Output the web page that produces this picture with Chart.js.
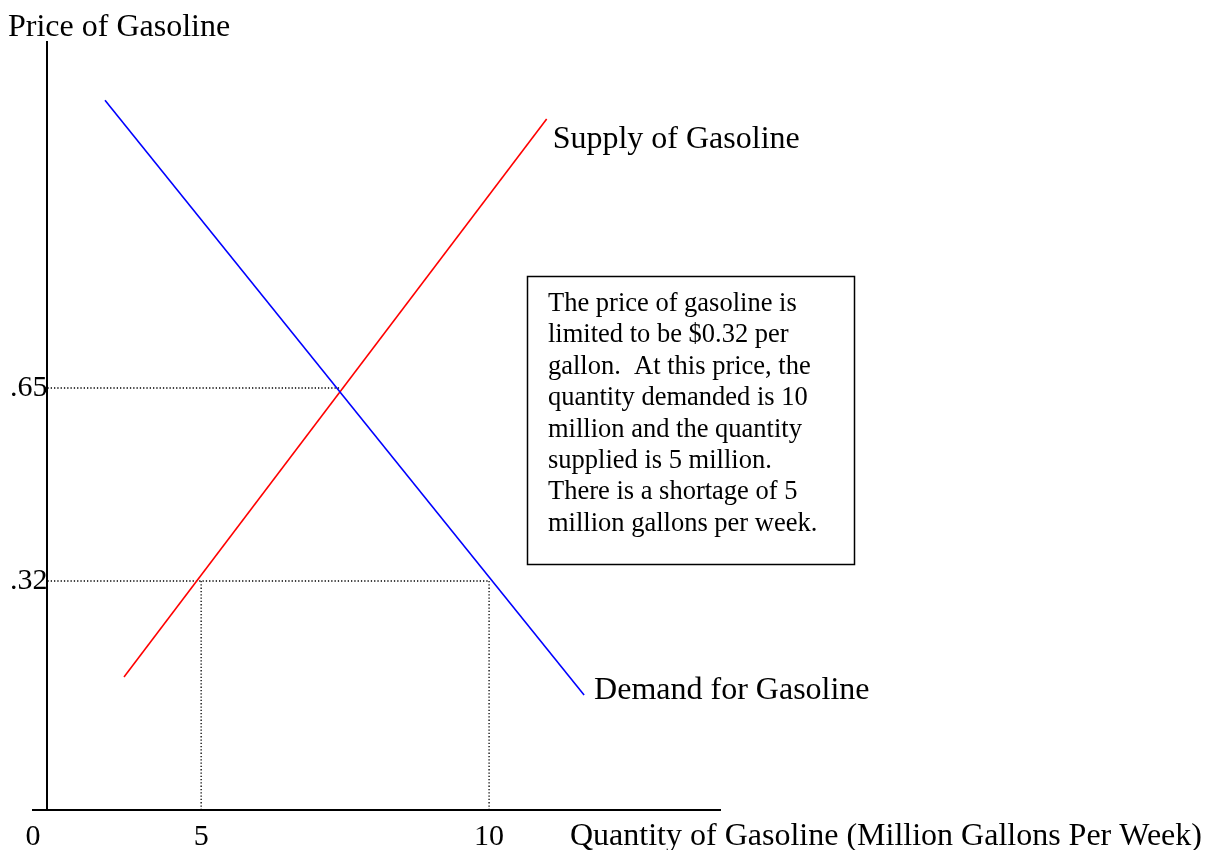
<!DOCTYPE html>
<html>
<head>
<meta charset="utf-8">
<script src="https://cdn.jsdelivr.net/npm/chart.js@4"></script>
<style>
  body { margin: 0; background: #fff; }
  #wrap { width: 1207px; height: 850px; position: relative; }
</style>
</head>
<body>
<div id="wrap"><canvas id="gasChart"></canvas></div>
<script>
// values
const demandQty = [3.33, 11.65];
const demandPrice = [1.142, 0.125];
const supplyQty = [3.66, 11.0];
const supplyPrice = [0.156, 1.11];
const equilibriumQty = 7.41;
const equilibriumPrice = 0.65;
const ceilingPrice = 0.32;
const qtySupplied = 5;
const qtyDemanded = 10;
const xTickValues = [5, 10];
const yTickValues = [0.32, 0.65];
const yTickLabels = ['.32', '.65'];
const noteLines = [
    'The price of gasoline is',
    'limited to be $0.32 per',
    'gallon.  At this price, the',
    'quantity demanded is 10',
    'million and the quantity',
    'supplied is 5 million.',
    'There is a shortage of 5',
    'million gallons per week.'
];

// axis ranges (the drawing is not to scale, origin label sits at the left end)
const xMin = 2.08, xMax = 14.01, yAxisAt = 2.33;
const yMin = -0.0716, yMax = 1.2417;

const serif = '"Liberation Serif", "Times New Roman", serif';

function pts(xs, ys) {
    return xs.map((x, i) => ({x: x, y: ys[i]}));
}

const dotted = {
    borderColor: '#000',
    borderWidth: 1.3,
    borderDash: [1.3, 2],
    pointRadius: 0,
    showLine: true,
    fill: false
};

const labelsPlugin = {
    id: 'labels',
    afterDraw(chart) {
        const c = chart.ctx;
        const xs = chart.scales.x, ys = chart.scales.y;
        c.save();
        c.fillStyle = '#000';
        c.textBaseline = 'middle';
        c.textAlign = 'left';
        c.font = '32px ' + serif;
        c.fillText('Price of Gasoline', 8, 28);
        c.fillText('Supply of Gasoline',
            xs.getPixelForValue(supplyQty[1]) + 6, ys.getPixelForValue(supplyPrice[1]) + 21);
        c.fillText('Demand for Gasoline',
            xs.getPixelForValue(demandQty[1]) + 10, ys.getPixelForValue(demandPrice[1]) - 4);
        c.fillText('Quantity of Gasoline (Million Gallons Per Week)', 570, 837);

        // note box
        c.lineWidth = 1.5;
        c.strokeStyle = '#000';
        c.strokeRect(527.5, 276.5, 327, 288);
        c.font = '26.5px ' + serif;
        noteLines.forEach((line, i) => {
            c.fillText(line, 548, 304 + i * 31.4);
        });
        c.restore();
    }
};

new Chart(document.getElementById('gasChart'), {
    type: 'scatter',
    data: {
        datasets: [
            {
                label: 'Demand for Gasoline',
                data: pts(demandQty, demandPrice),
                borderColor: '#0000ff',
                borderWidth: 1.6,
                pointRadius: 0,
                showLine: true
            },
            {
                label: 'Supply of Gasoline',
                data: pts(supplyQty, supplyPrice),
                borderColor: '#ff0000',
                borderWidth: 1.6,
                pointRadius: 0,
                showLine: true
            },
            Object.assign({data: [{x: yAxisAt, y: equilibriumPrice}, {x: equilibriumQty, y: equilibriumPrice}]}, dotted),
            Object.assign({data: [{x: yAxisAt, y: ceilingPrice}, {x: qtyDemanded, y: ceilingPrice}]}, dotted),
            Object.assign({data: [{x: qtySupplied, y: ceilingPrice}, {x: qtySupplied, y: yMin}]}, dotted),
            Object.assign({data: [{x: qtyDemanded, y: ceilingPrice}, {x: qtyDemanded, y: yMin}]}, dotted)
        ]
    },
    options: {
        responsive: true,
        maintainAspectRatio: false,
        animation: false,
        layout: {padding: {left: 33, right: 487, top: 42, bottom: 0}},
        plugins: {legend: {display: false}, tooltip: {enabled: false}},
        scales: {
            x: {
                type: 'linear',
                min: xMin,
                max: xMax,
                grid: {display: false, drawTicks: false},
                border: {display: true, color: '#000', width: 2},
                afterBuildTicks: s => { s.ticks = [xMin].concat(xTickValues).map(v => ({value: v})); },
                afterFit: s => { s.height = 40; },
                ticks: {
                    color: '#000',
                    padding: 9,
                    maxRotation: 0,
                    autoSkip: false,
                    font: {family: serif, size: 30},
                    callback: v => (v === xMin ? '0' : String(v))
                }
            },
            y: {
                type: 'linear',
                position: {x: yAxisAt},
                min: yMin,
                max: yMax,
                grid: {display: false, drawTicks: false},
                border: {display: true, color: '#000', width: 2},
                afterBuildTicks: s => { s.ticks = yTickValues.map(v => ({value: v})); },
                ticks: {
                    color: '#000',
                    padding: 0,
                    autoSkip: false,
                    font: {family: serif, size: 30},
                    callback: v => yTickLabels[yTickValues.indexOf(v)]
                }
            }
        }
    },
    plugins: [labelsPlugin]
});
</script>
</body>
</html>
